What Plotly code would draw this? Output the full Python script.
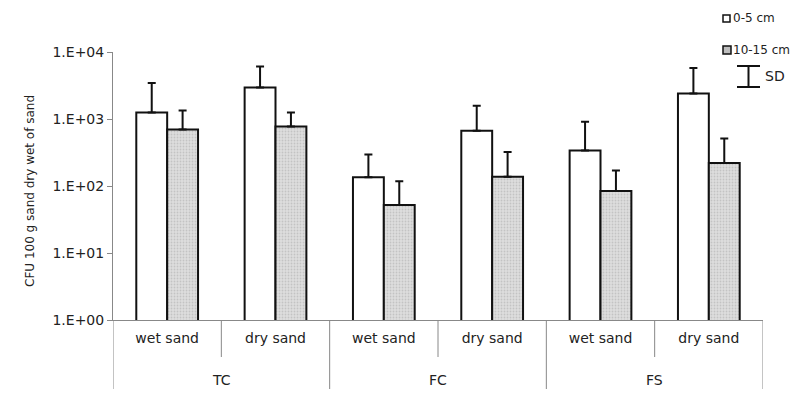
import plotly.graph_objects as go

sites = ["TC", "TC", "FC", "FC", "FS", "FS"]
conditions = ["wet sand", "dry sand", "wet sand", "dry sand", "wet sand", "dry sand"]

depth_0_5 = [1250, 2950, 135, 670, 340, 2400]
depth_0_5_sd = [2200, 3100, 160, 900, 570, 3350]
depth_10_15 = [700, 770, 52, 138, 84, 220]
depth_10_15_sd = [640, 480, 66, 185, 86, 290]

y_tickvals = [1, 10, 100, 1000, 10000]
y_ticktext = ["1.E+00", "1.E+01", "1.E+02", "1.E+03", "1.E+04"]

FONT = "DejaVu Sans"
categories = [f"{s} {c}" for s, c in zip(sites, conditions)]

# the page body adds an 8px margin; figure is sized so the page fits the window
OFF = 8
W, H = 798 - 2 * OFF, 397 - 2 * OFF
L, T = 113 - OFF, 52 - OFF
PW, PH = 650, 268
R, B = W - L - PW, H - T - PH


def px(xs):
    return (xs - OFF - L) / PW


def py(ys):
    return (T + PH - (ys - OFF)) / PH


fig = go.Figure()
fig.add_trace(go.Bar(
    x=categories, y=depth_0_5, name="0-5 cm",
    marker=dict(color="white", line=dict(color="#111", width=2)),
    error_y=dict(type="data", symmetric=False, array=depth_0_5_sd,
                 arrayminus=[0] * 6, color="#111", thickness=2, width=4),
))
fig.add_trace(go.Bar(
    x=categories, y=depth_10_15, name="10-15 cm",
    marker=dict(color="#d4d4d4", line=dict(color="#111", width=2),
                pattern=dict(shape=".", fgcolor="#a8a8a8", bgcolor="#dedede",
                             size=3, solidity=0.3)),
    error_y=dict(type="data", symmetric=False, array=depth_10_15_sd,
                 arrayminus=[0] * 6, color="#111", thickness=2, width=4),
))

fig.update_layout(
    width=W, height=H,
    margin=dict(l=L, r=R, t=T, b=B, autoexpand=False),
    paper_bgcolor="white", plot_bgcolor="white",
    barmode="group", bargap=0.43, bargroupgap=0,
    font=dict(family=FONT, size=14, color="#222"),
    showlegend=False,
    xaxis=dict(type="category", tickvals=categories, ticktext=conditions,
               showline=True, linecolor="#888", linewidth=1, ticks="",
               tickfont=dict(size=14), ticklabelstandoff=5,
               showgrid=False, automargin=False, range=[-0.5, len(categories) - 0.5]),
    yaxis=dict(type="log", range=[0, 4], tickvals=y_tickvals, ticktext=y_ticktext,
               showline=True, linecolor="#888", linewidth=1, ticks="outside",
               ticklen=5, tickcolor="#888", showgrid=False, zeroline=False,
               tickfont=dict(size=14), automargin=False),
)

# two-level category axis: separators and group labels
sep_short = -(357 - 320) / PH
sep_long = -(397 - 320) / PH
for i in range(len(categories) + 1):
    pos = i - 0.5
    is_group_edge = i == 0 or i == len(categories) or sites[i] != sites[i - 1]
    fig.add_shape(type="line", xref="x", yref="paper", x0=pos, x1=pos,
                  y0=0, y1=sep_long if is_group_edge else sep_short,
                  line=dict(color="#888", width=1))
for s in dict.fromkeys(sites):
    idx = [i for i, v in enumerate(sites) if v == s]
    fig.add_annotation(xref="x", yref="paper", x=sum(idx) / len(idx), y=py(380),
                       text=s, showarrow=False, yanchor="middle",
                       font=dict(size=14))

# y-axis title
fig.add_annotation(xref="paper", yref="paper", x=px(21), y=py(191),
                   text="CFU 100 g sand dry wet of sand", textangle=-90,
                   showarrow=False, font=dict(size=12))

# legend keys
fig.add_shape(type="rect", xref="paper", yref="paper", x0=px(723), x1=px(730),
              y0=py(15), y1=py(22), line=dict(color="#111", width=1.5),
              fillcolor="white")
fig.add_annotation(xref="paper", yref="paper", x=px(731), y=py(18), text="0-5 cm",
                   showarrow=False, xanchor="left", yanchor="middle",
                   font=dict(size=12))
fig.add_shape(type="rect", xref="paper", yref="paper", x0=px(723), x1=px(731),
              y0=py(46), y1=py(54), line=dict(color="#111", width=1.5),
              fillcolor="#bdbdbd")
fig.add_annotation(xref="paper", yref="paper", x=px(731), y=py(50), text="10-15 cm",
                   showarrow=False, xanchor="left", yanchor="middle",
                   font=dict(size=12))

# SD key
for y0, y1, x0, x1 in [(66, 87, 748.5, 748.5), (66, 66, 737, 760), (87, 87, 737, 760)]:
    fig.add_shape(type="line", xref="paper", yref="paper", x0=px(x0), x1=px(x1),
                  y0=py(y0), y1=py(y1), line=dict(color="#111", width=2))
fig.add_annotation(xref="paper", yref="paper", x=px(763), y=py(76), text="SD",
                   showarrow=False, xanchor="left", yanchor="middle",
                   font=dict(size=14))

fig.write_html("out.html")
